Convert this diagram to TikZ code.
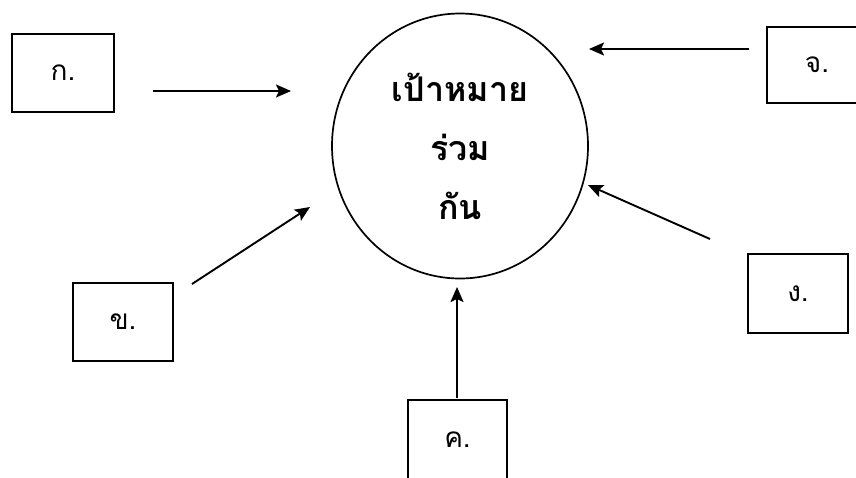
\documentclass[tikz,border=0pt]{standalone}
\usepackage{fontspec}
\newfontfamily\thaifont[Script=Thai]{Loma}
\usetikzlibrary{arrows.meta,shapes.geometric}
\begin{document}
\begin{tikzpicture}[x=1pt,y=-1pt,
  box/.style={draw, line width=1.6pt, minimum width=100pt, minimum height=78pt, inner sep=0pt, font=\thaifont\fontsize{28}{30}\selectfont},
  goal/.style={draw, ellipse, line width=1.7pt, minimum width=256pt, minimum height=265pt, inner sep=0pt, align=center, font=\thaifont\bfseries\fontsize{34}{59}\selectfont},
  arr/.style={line width=1.9pt, -{Stealth[length=15pt,width=13pt,inset=3pt]}}]
\useasboundingbox (0,0) rectangle (856,477);
\node[goal] (g) at (460,146) {เป้าหมาย\\ร่วม\\กัน};
\node[box, minimum width=102pt] (ka) at (63,73) {ก.};
\node[box] (kho) at (123,322) {ข.};
\node[box, minimum width=99pt, minimum height=80pt] (kho2) at (457.5,440) {ค.};
\node[box, minimum height=79pt] (ngo) at (798,293.5) {ง.};
\node[box, minimum height=76pt] (cho) at (817,65) {จ.};
\coordinate (a1) at (153,91);  \coordinate (a2) at (291,91);
\coordinate (e1) at (749,49);  \coordinate (e2) at (589,49);
\coordinate (b1) at (192,284); \coordinate (b2) at (310,207);
\coordinate (d1) at (710,239); \coordinate (d2) at (588,185);
\coordinate (c1) at (457,398); \coordinate (c2) at (457,287);
\draw[arr] (a1) -- (a2);
\draw[arr] (e1) -- (e2);
\draw[arr] (b1) -- (b2);
\draw[arr] (d1) -- (d2);
\draw[arr] (c1) -- (c2);
\end{tikzpicture}
\end{document}
